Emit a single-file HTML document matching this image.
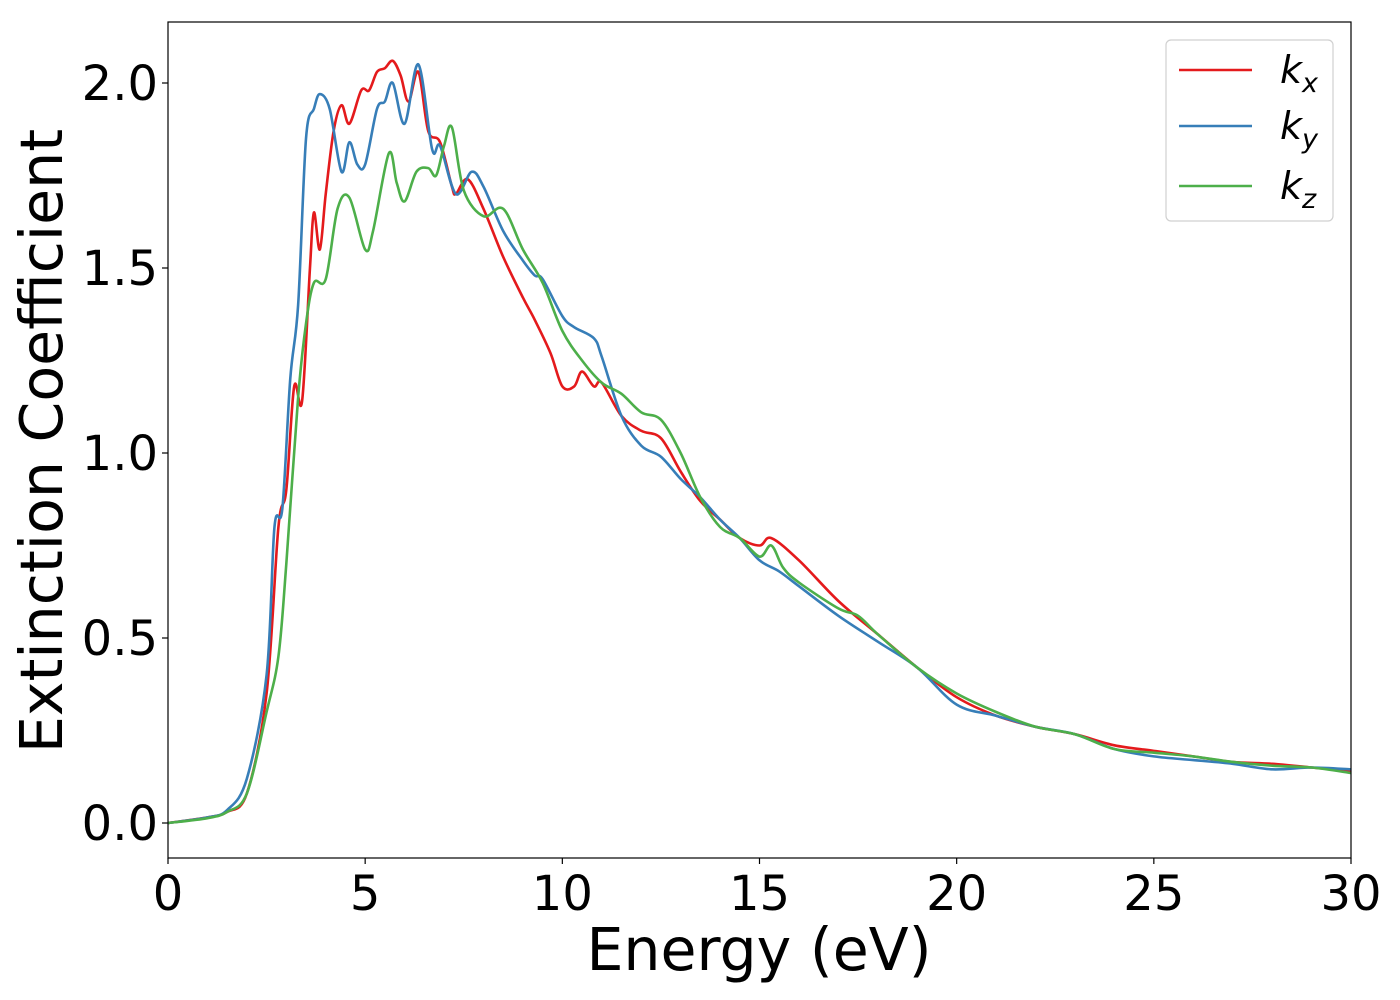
<!DOCTYPE html>
<html><head><meta charset="utf-8"><style>
body{margin:0;background:#fff;}
svg{display:block;font-family:"DejaVu Sans","Liberation Sans",sans-serif;}
</style></head><body>
<svg id="chart" width="1400" height="1000"></svg>
<script>
const energyX = [0,1,1.5,2,2.5,2.8,3,3.2,3.4,3.6,3.7,3.85,4,4.2,4.4,4.6,4.9,5.1,5.3,5.5,5.7,5.9,6.1,6.35,6.6,6.9,7.2,7.3,7.6,8,8.5,9,9.3,9.7,10,10.3,10.5,10.8,11,11.5,12,12.5,13,13.5,14,14.5,15,15.3,16,17,18,19,20,21,22,23,24,25,26,27,28,29,30];
const kxValues = [0,0.015,0.03,0.08,0.35,0.8,0.9,1.18,1.14,1.5,1.65,1.55,1.7,1.87,1.94,1.89,1.98,1.98,2.03,2.04,2.06,2.02,1.95,2.03,1.87,1.84,1.72,1.70,1.74,1.66,1.53,1.42,1.36,1.27,1.18,1.18,1.22,1.18,1.19,1.1,1.06,1.04,0.95,0.87,0.82,0.77,0.75,0.77,0.71,0.6,0.51,0.42,0.34,0.29,0.26,0.24,0.21,0.195,0.18,0.165,0.16,0.15,0.14];
const energyY = [0,1,1.5,2,2.5,2.7,2.9,3.1,3.3,3.5,3.7,3.85,4.1,4.4,4.6,4.8,5.0,5.3,5.5,5.7,6.0,6.35,6.7,6.9,7.3,7.7,8,8.5,9,9.3,9.5,10,10.3,10.8,11,11.5,12,12.5,13,13.5,14,14.5,15,15.5,16,17,18,19,20,21,22,23,24,25,26,27,28,29,30];
const kyValues = [0,0.015,0.035,0.12,0.4,0.8,0.85,1.2,1.4,1.85,1.93,1.97,1.93,1.76,1.84,1.78,1.78,1.93,1.95,2.0,1.89,2.05,1.82,1.83,1.7,1.76,1.72,1.6,1.52,1.48,1.47,1.37,1.34,1.31,1.26,1.1,1.02,0.99,0.93,0.88,0.82,0.77,0.71,0.68,0.64,0.56,0.49,0.42,0.32,0.29,0.26,0.24,0.2,0.18,0.17,0.16,0.145,0.15,0.145];
const energyZ = [0,1,1.5,2,2.5,2.8,3.0,3.3,3.5,3.7,4,4.3,4.6,5,5.2,5.6,5.8,6,6.3,6.6,6.8,7,7.2,7.5,8,8.5,9,9.5,10,10.5,11,11.5,12,12.5,13,13.5,14,14.5,15,15.3,15.6,16,17,17.5,18,19,20,21,22,23,24,25,26,27,28,29,30];
const kzValues = [0,0.013,0.03,0.08,0.3,0.45,0.7,1.15,1.35,1.46,1.47,1.66,1.69,1.55,1.6,1.81,1.73,1.68,1.76,1.77,1.75,1.83,1.88,1.71,1.64,1.66,1.55,1.46,1.33,1.25,1.19,1.16,1.11,1.09,1.0,0.88,0.8,0.77,0.72,0.75,0.69,0.65,0.58,0.56,0.51,0.42,0.35,0.3,0.26,0.24,0.2,0.19,0.18,0.165,0.155,0.15,0.135];
const xTicks = [0,5,10,15,20,25,30];
const yTicks = [0.0,0.5,1.0,1.5,2.0];

const NS="http://www.w3.org/2000/svg";
const svg=document.getElementById('chart');
const L=168,R=1351,T=22,B=858;
const X=v=>L+(v-0)/30*(R-L);
const Y=v=>823-v*370;
function el(t,a,p){const e=document.createElementNS(NS,t);for(const k in a)e.setAttribute(k,a[k]);(p||svg).appendChild(e);return e;}

function smoothPath(xs,ys){
  const p=xs.map((x,i)=>[X(x),Y(ys[i])]);
  let d=`M${p[0][0]},${p[0][1]}`;
  for(let i=0;i<p.length-1;i++){
    const p0=p[Math.max(0,i-1)],p1=p[i],p2=p[i+1],p3=p[Math.min(p.length-1,i+2)];
    const c1=[p1[0]+(p2[0]-p0[0])/6,p1[1]+(p2[1]-p0[1])/6];
    const c2=[p2[0]-(p3[0]-p1[0])/6,p2[1]-(p3[1]-p1[1])/6];
    d+=`C${c1[0]},${c1[1]} ${c2[0]},${c2[1]} ${p2[0]},${p2[1]}`;
  }
  return d;
}
const clip=el('clipPath',{id:'pc'});el('rect',{x:L,y:T,width:R-L,height:B-T},clip);
const series=[[energyX,kxValues,'#e41a1c','series-kx'],[energyY,kyValues,'#377eb8','series-ky'],[energyZ,kzValues,'#4daf4a','series-kz']];
series.forEach(s=>{
  const p=el('path',{d:smoothPath(s[0],s[1]),fill:'none',stroke:s[2],'stroke-width':2.6,'clip-path':'url(#pc)'});
  
  
});
const frame=el('rect',{x:L,y:T,width:R-L,height:B-T,fill:'none',stroke:'#000','stroke-width':1.2});


xTicks.forEach(t=>{
  el('line',{x1:X(t),x2:X(t),y1:B,y2:B+6,stroke:'#000','stroke-width':1.2});
  const tx=el('text',{x:X(t),y:B+52,'text-anchor':'middle','font-size':48});
  tx.textContent=t;
  
  
});
yTicks.forEach(t=>{
  el('line',{x1:L-6,x2:L,y1:Y(t),y2:Y(t),stroke:'#000','stroke-width':1.2});
  const tx=el('text',{x:L-10,y:Y(t)+17,'text-anchor':'end','font-size':48});
  tx.textContent=t.toFixed(1);
  
  
});
const xl=el('text',{x:759,y:970,'text-anchor':'middle','font-size':58.5});
xl.textContent='Energy (eV)';


const yl=el('text',{x:0,y:0,'text-anchor':'middle','font-size':58.5,transform:'translate(62,441) rotate(-90)'});
yl.textContent='Extinction Coefficient';


const lg=el('g',{});


el('rect',{x:1166,y:40,width:167,height:181,rx:5,fill:'#fff',stroke:'#d0d0d0','stroke-width':1.2},lg);
[['x',70,'#e41a1c'],['y',126,'#377eb8'],['z',186,'#4daf4a']].forEach(e=>{
  const g=el('g',{},lg);
  
  
  el('line',{x1:1179,x2:1252,y1:e[1],y2:e[1],stroke:e[2],'stroke-width':2.6},g);
  const t=el('text',{x:1280,y:e[1]+13,'font-size':38,'font-style':'italic'},g);
  t.innerHTML='k<tspan font-size="27" dy="9">'+e[0]+'</tspan>';
});
</script>
</body></html>
